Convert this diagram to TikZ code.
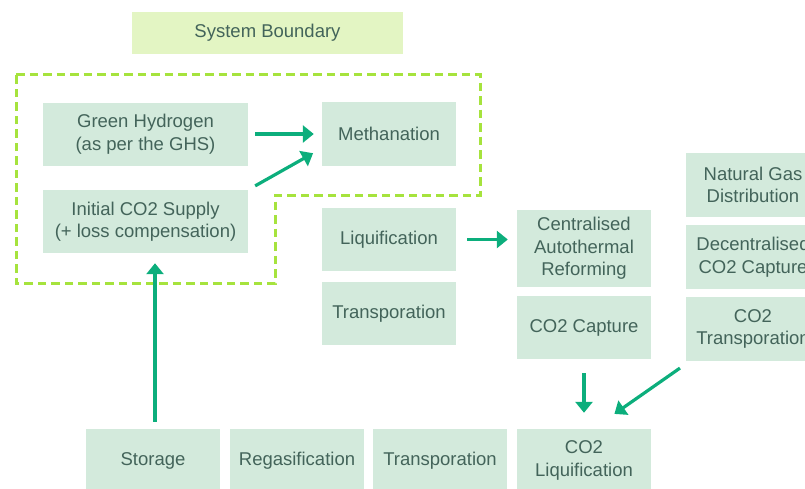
\documentclass[tikz,border=0pt]{standalone}
\usepackage{fontspec}
\setmainfont{Liberation Sans}
\usetikzlibrary{arrows.meta}

\definecolor{stagefill}{HTML}{D3EADC}
\definecolor{tagfill}{HTML}{E3F5C3}
\definecolor{limeline}{HTML}{A6E33D}
\definecolor{flowgreen}{HTML}{0CAE7C}
\definecolor{labeltext}{HTML}{43645A}

\begin{document}
\begin{tikzpicture}[x=1pt, y=-1pt,
	stage/.style={fill=stagefill, text=labeltext, align=center, inner sep=0pt,
		minimum width=134pt, minimum height=63pt, font=\fontsize{18.5}{22.5}\selectfont},
	wide/.style={stage, minimum width=205pt},
	tag/.style={fill=tagfill, text=labeltext, inner sep=0pt,
		minimum width=271pt, minimum height=42pt, font=\fontsize{18.5}{22.5}\selectfont},
	flow/.style={draw=flowgreen, line width=3.2pt, -{Triangle[length=11pt, width=17pt]}},
	boundary/.style={draw=limeline, line width=3pt, dash pattern=on 8.5pt off 5pt}]

	% Page frame
	\useasboundingbox (0,0) rectangle (805,488);
	\clip (0,0) rectangle (805,488);

	% Label for the dashed frame
	\node[tag] (sysb) at (267.5,33) {System Boundary};

	% Dashed system boundary (L-shaped)
	\draw[boundary] (16,74) -- (480,74) -- (480,195) -- (275,195) -- (275,283) -- (16,283) -- cycle;

	% Inside the boundary
	\node[wide] (h2) at (145.5,134) {Green Hydrogen\\(as per the GHS)};
	\node[wide] (co2sup) at (145.5,221.5) {Initial CO2 Supply\\(+ loss compensation)};
	\node[stage, minimum height=64pt] (meth) at (389,134) {Methanation};

	% Middle column
	\node[stage] (liq) at (389,239.5) {Liquification};
	\node[stage] (trans) at (389,313.5) {Transporation};

	% Reforming column
	\node[stage, minimum height=77pt] (atr) at (584,248.5) {Centralised\\Autothermal\\Reforming};
	\node[stage] (capt) at (584,327.5) {CO2 Capture};
	\node[stage] (co2liq) at (584,460.5) {CO2\\Liquification};

	% Right column (runs off the page)
	\node[stage, minimum height=64pt] (ngd) at (753,185) {Natural Gas\\Distribution};
	\node[stage, minimum height=64pt] (dcc) at (753,257) {Decentralised\\CO2 Capture};
	\node[stage, minimum height=64pt] (co2tr) at (753,329) {CO2\\Transporation};

	% Bottom row
	\node[stage] (store) at (153,460.5) {Storage};
	\node[stage] (regas) at (297,460.5) {Regasification};
	\node[stage] (trans2) at (440,460.5) {Transporation};

	% Flows
	\draw[flow, shorten <=7pt, shorten >=8pt] (h2.east) -- (meth.west);
	\draw[flow, shorten <=8pt, shorten >=10pt] (co2sup.north east) -- (meth.192);
	\draw[flow, shorten <=7pt, shorten >=10pt] ([xshift=2pt]store.north) -- ([xshift=2pt]store.north |- co2sup.south);
	\draw[flow, shorten <=11pt, shorten >=9pt] (liq.east) -- (liq.east -| atr.west);
	\draw[flow, shorten <=14pt, shorten >=16pt] (capt.south) -- (co2liq.north);
	\draw[flow, shorten <=12pt, shorten >=26pt] (co2tr.207) -- (co2liq.74);
\end{tikzpicture}
\end{document}
